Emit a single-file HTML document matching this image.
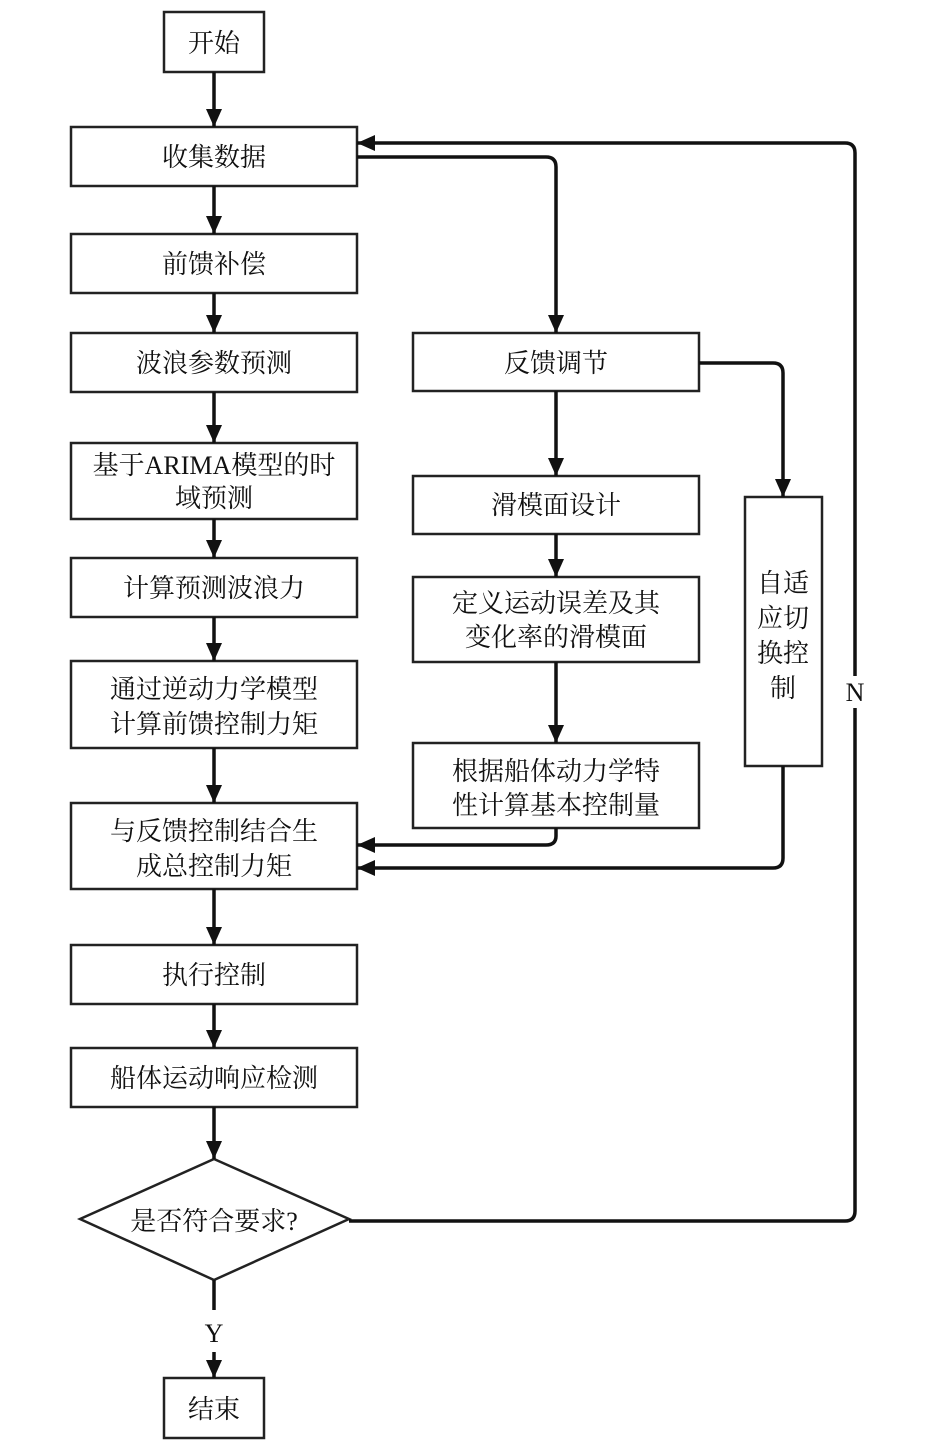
<!DOCTYPE html>
<html><head><meta charset="utf-8"><style>
html,body{margin:0;padding:0;background:#fff;}
svg{display:block;}
text{font-family:"Liberation Serif","Noto Serif CJK SC","Noto Sans CJK SC",serif;font-size:26px;fill:#111;text-anchor:middle;}
</style></head><body>
<svg width="945" height="1450" viewBox="0 0 945 1450" xmlns="http://www.w3.org/2000/svg">
<defs><marker id="a" markerWidth="8" markerHeight="8" refX="7" refY="4" orient="auto" markerUnits="userSpaceOnUse" viewBox="0 0 8 8"><path d="M0,0 L8,4 L0,8z" fill="#111"/></marker>
<marker id="b" markerWidth="18" markerHeight="16" refX="18" refY="8" orient="auto" markerUnits="userSpaceOnUse"><path d="M0,0 L18,8 L0,16z" fill="#111"/></marker></defs>
<g fill="#fff" stroke="#222" stroke-width="2.5">
<rect x="164" y="12" width="100" height="60"/>
<rect x="71" y="127" width="286" height="59"/>
<rect x="71" y="234" width="286" height="59"/>
<rect x="71" y="333" width="286" height="59"/>
<rect x="71" y="443" width="286" height="76"/>
<rect x="71" y="558" width="286" height="59"/>
<rect x="71" y="661" width="286" height="87"/>
<rect x="71" y="803" width="286" height="86"/>
<rect x="71" y="945" width="286" height="59"/>
<rect x="71" y="1048" width="286" height="59"/>
<polygon points="214,1159 349,1219 214,1280 80,1219"/>
<rect x="164" y="1378" width="100" height="60"/>
<rect x="413" y="333" width="286" height="58"/>
<rect x="413" y="476" width="286" height="58"/>
<rect x="413" y="577" width="286" height="85"/>
<rect x="413" y="743" width="286" height="85"/>
<rect x="745" y="497" width="77" height="269"/>
</g>
<g fill="none" stroke="#111" stroke-width="3.5" marker-end="url(#b)">
<line x1="214" y1="72" x2="214" y2="127"/>
<line x1="214" y1="186" x2="214" y2="234"/>
<line x1="214" y1="293" x2="214" y2="333"/>
<line x1="214" y1="392" x2="214" y2="443"/>
<line x1="214" y1="519" x2="214" y2="558"/>
<line x1="214" y1="617" x2="214" y2="661"/>
<line x1="214" y1="748" x2="214" y2="803"/>
<line x1="214" y1="889" x2="214" y2="945"/>
<line x1="214" y1="1004" x2="214" y2="1048"/>
<line x1="214" y1="1107" x2="214" y2="1159"/>
<line x1="214" y1="1352" x2="214" y2="1378"/>
<line x1="556" y1="391" x2="556" y2="476"/>
<line x1="556" y1="534" x2="556" y2="577"/>
<line x1="556" y1="662" x2="556" y2="743"/>
<path d="M357,157 H546 Q556,157 556,167 V333"/>
<path d="M699,363 H773 Q783,363 783,373 V497"/>
<path d="M556,828 V836 Q556,845 546,845 H357"/>
<path d="M783,766 V858 Q783,868 773,868 H357"/>
<path d="M349,1221 H845 Q855,1221 855,1211 V153 Q855,143 845,143 H357"/>
</g>
<line x1="214" y1="1280" x2="214" y2="1310" stroke="#111" stroke-width="3.5"/>
<rect x="840" y="676" width="30" height="32" fill="#fff"/>
<text x="214" y="52">开始</text>
<text x="214" y="166">收集数据</text>
<text x="214" y="273">前馈补偿</text>
<text x="214" y="372">波浪参数预测</text>
<text x="214" y="474">基于ARIMA模型的时</text>
<text x="214" y="507">域预测</text>
<text x="214" y="597">计算预测波浪力</text>
<text x="214" y="698">通过逆动力学模型</text>
<text x="214" y="733">计算前馈控制力矩</text>
<text x="214" y="840">与反馈控制结合生</text>
<text x="214" y="875">成总控制力矩</text>
<text x="214" y="984">执行控制</text>
<text x="214" y="1087">船体运动响应检测</text>
<text x="214" y="1230">是否符合要求?</text>
<text x="214" y="1342">Y</text>
<text x="214" y="1418">结束</text>
<text x="556" y="372">反馈调节</text>
<text x="556" y="514">滑模面设计</text>
<text x="556" y="612">定义运动误差及其</text>
<text x="556" y="646">变化率的滑模面</text>
<text x="556" y="780">根据船体动力学特</text>
<text x="556" y="814">性计算基本控制量</text>
<text x="783" y="592">自适</text>
<text x="783" y="627">应切</text>
<text x="783" y="662">换控</text>
<text x="783" y="697">制</text>
<text x="855" y="701">N</text>
</svg>
</body></html>
